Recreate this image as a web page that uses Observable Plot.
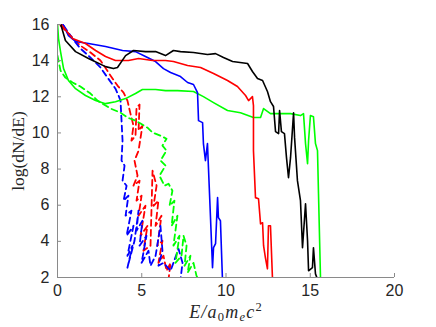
<!DOCTYPE html>
<html>
<head>
<meta charset="utf-8">
<script src="https://cdn.jsdelivr.net/npm/d3@7"></script>
<script src="https://cdn.jsdelivr.net/npm/@observablehq/plot@0.6"></script>
<style>
  html, body { margin: 0; padding: 0; background: #fff; }
  #chart svg { display: block; }
</style>
</head>
<body>
<div id="chart"></div>
<script>
// ---- data ----
const xTicks = [0, 5, 10, 15, 20];
const yTicks = [2, 4, 6, 8, 10, 12, 14, 16];

const blackX = [0.18,0.47,1.07,1.84,2.85,3.32,3.56,4.04,4.51,5.22,5.82,6.41,6.88,7.30,8.07,8.90,9.38,9.85,10.39,11.28,11.57,11.87,12.17,12.46,12.64,12.82,12.94,13.12,13.18,13.29,13.47,13.59,13.71,13.83,14.01,14.07,14.24,14.42,14.54,14.72,14.84,14.90,15.13,15.19,15.31,15.43];
const blackY = [16.05,15.11,14.50,14.12,13.67,13.56,13.62,14.28,14.56,14.50,14.50,14.28,14.56,14.50,14.45,14.34,14.39,14.17,13.95,13.84,13.40,13.01,12.90,12.29,11.73,11.46,10.07,9.96,11.24,10.07,9.96,8.63,7.52,8.63,11.12,9.74,7.36,6.25,3.65,6.08,4.03,2.37,2.54,3.65,2.2,1.9];

const redX = [0.18,0.89,1.66,2.26,2.85,3.44,4.21,4.81,5.64,6.41,6.88,7.72,8.49,9.26,10.09,10.68,11.16,11.34,11.57,11.63,11.63,11.75,11.93,12.05,12.17,12.23,12.34,12.46,12.52,12.64,12.76];
const redY = [16.05,15.22,14.95,14.56,14.23,14.01,14.01,14.12,14.01,14.01,13.95,13.73,13.62,13.29,12.90,12.57,12.07,11.79,12.01,11.51,9.02,6.42,6.36,4.97,5.03,3.76,3.09,2.48,4.86,4.86,1.9];

const blueX = [0.30,0.65,1.07,1.84,2.85,3.86,4.63,5.22,5.82,6.29,6.71,7.30,7.72,8.07,8.31,8.37,8.61,8.66,8.78,8.90,9.08,9.20,9.26,9.38,9.50,9.55,9.67,9.79];
const blueY = [16.05,15.39,15.06,14.95,14.78,14.56,14.50,14.23,13.95,13.56,13.34,13.12,12.79,12.68,12.23,10.68,10.57,9.41,8.47,9.41,5.31,2.54,3.65,3.87,6.42,5.31,5.14,1.9];

const greenX = [0,0.06,0.18,0.36,0.65,1.07,1.66,2.26,2.85,3.44,4.04,4.63,5.04,5.82,6.41,7.12,8.07,8.66,9.26,10.09,10.86,11.63,12.05,12.23,12.64,13.23,13.83,14.42,14.60,14.72,14.84,14.90,15.01,15.19,15.31,15.43,15.49,15.61];
const greenY = [16.05,15.22,14.50,13.56,12.90,12.45,12.07,11.79,11.62,11.73,11.90,12.18,12.40,12.40,12.34,12.34,12.29,12.01,11.68,11.24,11.12,10.85,10.85,11.35,11.07,11.07,11.07,10.96,11.07,9.41,8.30,9.57,10.96,10.90,9.41,9.02,6.64,1.9];

const redDashX = [0.18,0.77,1.36,1.96,2.55,3.15,3.56,3.92,4.15,4.33,4.51,4.39,4.63,4.69,4.87,4.81,5.04,4.81,4.57,4.75,4.51,4.87,4.69,4.99,4.81,5.22,4.93,5.34,5.10,5.52,5.64,5.88,5.70,5.99,5.82,6.17,5.93,6.23,5.99,6.29,6.47,6.71,6.59];
const redDashY = [15.94,15.39,14.83,14.45,14.01,13.17,12.62,12.23,11.79,11.07,10.40,9.57,9.85,11.40,11.57,10.13,10.40,9.02,8.47,7.63,7.08,7.36,6.25,6.53,5.42,5.97,4.31,4.86,3.48,3.76,7.91,7.08,5.97,6.25,4.86,5.42,3.76,4.03,2.81,3.20,2.37,2.81,1.9];

const blueDashX = [0.36,0.89,1.36,1.96,2.55,2.97,3.44,3.62,3.74,3.80,3.86,3.80,3.98,3.86,4.10,3.92,4.21,4.04,4.39,4.10,4.51,4.15,4.45,4.15,4.57,4.81,4.69,5.04,4.87,5.28,4.99,5.40,5.52,5.82,6.11,6.23,5.99,6.29,6.71,7.18,7.42,7.30];
const blueDashY = [15.94,15.22,14.67,14.17,13.62,13.06,12.45,12.07,11.79,10.68,9.57,8.47,8.19,7.36,7.08,6.25,6.53,5.42,5.70,4.31,4.86,3.20,3.76,2.54,4.03,5.70,4.59,5.14,3.76,4.31,2.81,3.48,2.65,3.20,4.86,3.48,2.65,2.81,2.37,3.59,2.81,1.9];

const greenDashX = [0,0.18,0.47,0.89,1.36,1.96,2.37,3.15,3.74,4.15,4.63,4.93,5.34,5.64,6.11,6.47,6.23,6.47,6.11,6.41,6.05,6.35,6.59,6.82,6.65,6.94,6.77,7.12,6.88,7.24,7.00,7.36,7.48,7.66,7.54,7.89,7.72,8.07,8.25,8.37];
const greenDashY = [14.28,13.45,13.06,12.79,12.57,12.18,11.79,11.35,11.12,10.85,10.68,10.52,10.29,10.02,9.85,9.68,9.30,9.02,8.47,8.19,7.63,7.08,7.19,6.80,5.97,6.25,4.86,5.42,3.76,4.31,2.81,3.20,4.31,3.76,2.65,3.20,2.26,2.81,2.09,1.9];

const series = [
  {x: blackX, y: blackY, color: "#000000", dash: null},
  {x: redX, y: redY, color: "#ff0000", dash: null},
  {x: blueX, y: blueY, color: "#0000ff", dash: null},
  {x: greenX, y: greenY, color: "#00ff00", dash: null},
  {x: redDashX, y: redDashY, color: "#ff0000", dash: "6,4"},
  {x: blueDashX, y: blueDashY, color: "#0000ff", dash: "6,4"},
  {x: greenDashX, y: greenDashY, color: "#00ff00", dash: "6,4"}
];

const W = 436, H = 327;
const mL = 57, mR = 42, mT = 24, mB = 50;
const xDom = [0, 20], yDom = [2, 16];
const axisColor = "#8a8a8a";
const tickLen = 4;
const yPerPx = (yDom[1] - yDom[0]) / (H - mT - mB);
const xPerPx = (xDom[1] - xDom[0]) / (W - mL - mR);

const lineMarks = series.map(s => {
  const pts = s.x.map((x, i) => ({x, y: s.y[i]}));
  return Plot.line(pts, {x: "x", y: "y", stroke: s.color, strokeWidth: s.dash ? 1.8 : 1.6,
    strokeDasharray: s.dash || undefined, clip: true, curve: "linear"});
});

const chart = Plot.plot({
  width: W, height: H,
  marginLeft: mL, marginRight: mR, marginTop: mT, marginBottom: mB,
  style: {fontFamily: "'Liberation Sans', Arial, sans-serif", fontSize: "16px", color: "#262626", background: "#fff"},
  x: {domain: xDom},
  y: {domain: yDom},
  marks: [
    ...lineMarks.slice(4),
    ...lineMarks.slice(0, 4).reverse(),
    Plot.ruleY([yDom[0]], {stroke: axisColor, strokeWidth: 1}),
    Plot.ruleX([xDom[0]], {stroke: axisColor, strokeWidth: 1}),
    Plot.ruleX(xTicks, {x: d => d, y1: yDom[0], y2: yDom[0] + tickLen * yPerPx, stroke: axisColor}),
    Plot.ruleY(yTicks, {y: d => d, x1: xDom[0], x2: xDom[0] + tickLen * xPerPx, stroke: axisColor}),
    Plot.axisX(xTicks, {tickSize: 0, tickPadding: 7, label: null, fontSize: 16, fill: "#262626"}),
    Plot.axisY(yTicks, {tickSize: 0, tickPadding: 8, label: null, fontSize: 16, fill: "#262626"})
  ]
});

document.getElementById("chart").appendChild(chart);

// axis titles (serif, math style)
const svg = d3.select(chart);
svg.append("text")
  .attr("transform", "translate(24,151) rotate(-90)")
  .attr("text-anchor", "middle")
  .attr("font-family", "'Liberation Serif', 'Times New Roman', serif")
  .attr("font-size", 17.5)
  .attr("fill", "#262626")
  .text("log(dN/dE)");

const xl = svg.append("text")
  .attr("x", 226).attr("y", 318)
  .attr("text-anchor", "middle")
  .attr("font-family", "'Liberation Serif', 'Times New Roman', serif")
  .attr("font-size", 18)
  .attr("letter-spacing", "1.2px")
  .attr("font-style", "italic")
  .attr("fill", "#262626");
xl.append("tspan").text("E/a");
xl.append("tspan").attr("dy", 3).attr("font-size", 12.5).attr("font-style", "normal").text("0");
xl.append("tspan").attr("dy", -3).text("m");
xl.append("tspan").attr("dy", 3).attr("font-size", 12.5).text("e");
xl.append("tspan").attr("dy", -3).text("c");
xl.append("tspan").attr("dy", -7).attr("font-size", 12.5).attr("font-style", "normal").text("2");
</script>
</body>
</html>
